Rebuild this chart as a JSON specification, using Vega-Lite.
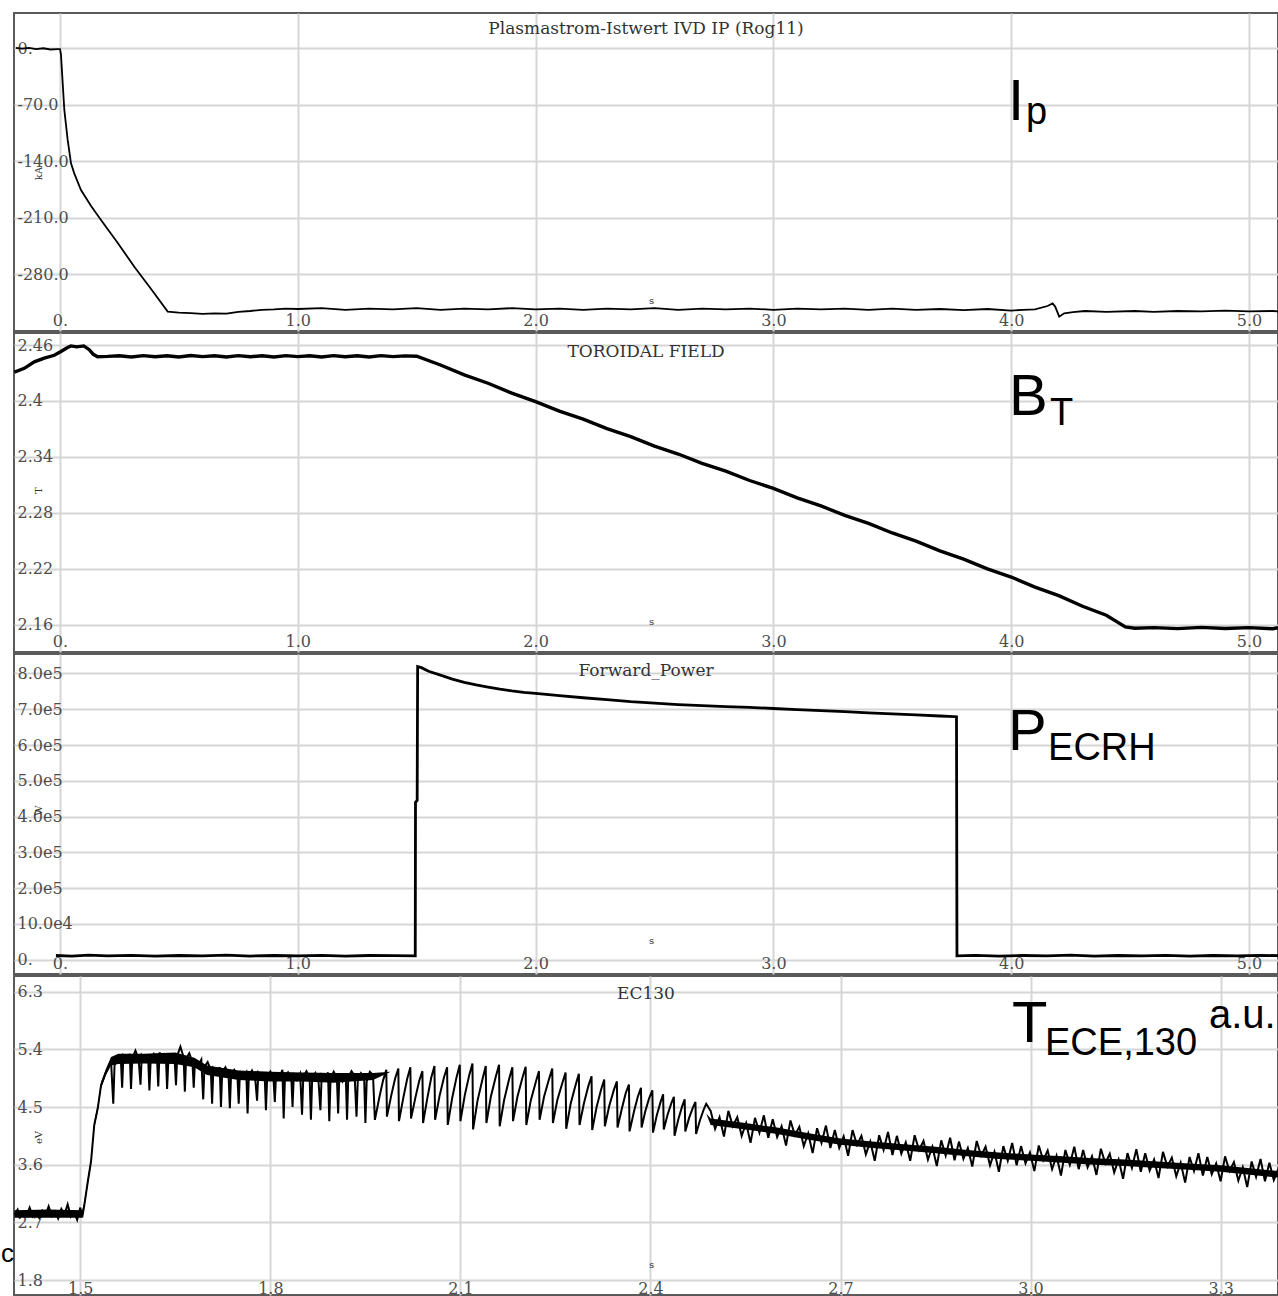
{
"$schema": "https://vega.github.io/schema/vega-lite/v6.json",
"padding": {"left": 0, "top": 12, "right": 0, "bottom": 0},
"autosize": {"type": "pad"},
"background": "white",
"spacing": 2,
"bounds": "flush",
"config": {
  "view": {"stroke": "#5a5a5a", "strokeWidth": 2},
  "axis": {"grid": true, "gridColor": "#d6d6d6", "gridWidth": 2, "domain": false, "ticks": false, "tickSize": 0, "labelFont": "DejaVu Serif", "labelFontSize": 16, "labelColor": "#4d4d4d", "labelOverlap": false, "labelFlush": false, "labelBound": false, "titleFont": "DejaVu Serif", "titleFontSize": 10, "titleFontWeight": "normal", "titleColor": "#333333", "titleAlign": "center", "titleBaseline": "middle"},
  "axisX": {"labelPadding": -6, "labelBaseline": "alphabetic", "labelAlign": "center", "titleX": 637, "titleY": -31, "titleAngle": 0},
  "axisY": {"labelPadding": -3, "labelAlign": "left", "labelBaseline": "middle", "titleX": 24, "titleY": 160, "titleAngle": 270},
  "title": {"font": "DejaVu Serif", "fontSize": 17, "fontWeight": "normal", "color": "#333333", "anchor": "middle", "frame": "group"}
},
"vconcat": [
{
  "width": 1264, "height": 318,
  "title": {"text": "Plasmastrom-Istwert IVD IP (Rog11)", "offset": -25},
  "encoding": {
    "x": {"field": "t", "type": "quantitative", "scale": {"domain": [-0.1934, 5.122], "nice": false, "zero": false}, "axis": {"values": [0,1,2,3,4,5], "labelExpr": "datum.value == 0 ? '0.' : format(datum.value, '.1f')", "title": "s"}},
    "y": {"field": "v", "type": "quantitative", "scale": {"domain": [-350.27, 43.7], "nice": false, "zero": false}, "axis": {"values": [0,-70,-140,-210,-280], "labelExpr": "datum.value == 0 ? '0.' : '-' + format(-datum.value, '.1f')", "title": "kA"}}
  },
  "layer": [
    {"data": {"values": [{"t":-0.186,"v":0.5},{"t":-0.16,"v":-0.5},{"t":-0.13,"v":0.5},{"t":-0.1,"v":-1},{"t":-0.07,"v":0},{"t":-0.04,"v":-1.5},{"t":-0.01,"v":-1},{"t":0.0,"v":-1},{"t":0.0042,"v":-8.3},{"t":0.0182,"v":-76.4},{"t":0.0323,"v":-113.6},{"t":0.0463,"v":-142.5},{"t":0.06,"v":-155},{"t":0.0883,"v":-175.6},{"t":0.13,"v":-195},{"t":0.1724,"v":-212.7},{"t":0.24,"v":-240},{"t":0.3125,"v":-270.6},{"t":0.38,"v":-297},{"t":0.4529,"v":-326.3},{"t":0.5,"v":-327.5},{"t":0.55,"v":-328},{"t":0.6,"v":-329},{"t":0.65,"v":-328.5},{"t":0.7,"v":-328.8},{"t":0.75,"v":-326.5},{"t":0.8,"v":-325.5},{"t":0.85,"v":-324},{"t":0.9,"v":-323.5},{"t":0.95,"v":-322.5},{"t":1.0,"v":-323},{"t":1.1,"v":-322},{"t":1.2,"v":-324},{"t":1.3,"v":-322.5},{"t":1.4,"v":-323.5},{"t":1.5,"v":-322},{"t":1.6,"v":-324},{"t":1.7,"v":-322.5},{"t":1.8,"v":-323.5},{"t":1.9,"v":-322},{"t":2.0,"v":-323.5},{"t":2.1,"v":-322.5},{"t":2.2,"v":-324},{"t":2.3,"v":-322.5},{"t":2.4,"v":-323.5},{"t":2.5,"v":-322},{"t":2.6,"v":-324},{"t":2.7,"v":-322.5},{"t":2.8,"v":-323.5},{"t":2.9,"v":-322.5},{"t":3.0,"v":-324},{"t":3.1,"v":-322.5},{"t":3.2,"v":-323.5},{"t":3.3,"v":-322.5},{"t":3.4,"v":-324},{"t":3.5,"v":-322.5},{"t":3.6,"v":-324},{"t":3.7,"v":-323},{"t":3.8,"v":-324.5},{"t":3.9,"v":-323},{"t":4.0,"v":-325},{"t":4.05,"v":-324},{"t":4.1,"v":-323.5},{"t":4.153,"v":-319.3},{"t":4.174,"v":-316},{"t":4.185,"v":-320},{"t":4.202,"v":-332.5},{"t":4.223,"v":-328.4},{"t":4.26,"v":-327},{"t":4.31,"v":-325.5},{"t":4.4,"v":-326.5},{"t":4.52,"v":-325.5},{"t":4.6,"v":-326.5},{"t":4.7,"v":-325.5},{"t":4.8,"v":-326},{"t":4.9,"v":-325},{"t":5.0,"v":-326},{"t":5.1,"v":-325.5},{"t":5.122,"v":-326}]},
     "mark": {"type": "line", "color": "black", "strokeWidth": 1.8, "clip": true}},
    {"data": {"values": [{"label": "I", "t": 3.987, "v": -89}]},
     "mark": {"type": "text", "font": "Liberation Sans", "fontSize": 58, "align": "left", "baseline": "alphabetic", "color": "black"},
     "encoding": {"text": {"field": "label"}}},
    {"data": {"values": [{"label": "p", "t": 4.062, "v": -94}]},
     "mark": {"type": "text", "font": "Liberation Sans", "fontSize": 38, "align": "left", "baseline": "alphabetic", "color": "black"},
     "encoding": {"text": {"field": "label"}}}
  ]
},
{
  "width": 1264, "height": 319,
  "title": {"text": "TOROIDAL FIELD", "offset": -28},
  "encoding": {
    "x": {"field": "t", "type": "quantitative", "scale": {"domain": [-0.1934, 5.122], "nice": false, "zero": false}, "axis": {"values": [0,1,2,3,4,5], "labelExpr": "datum.value == 0 ? '0.' : format(datum.value, '.1f')", "title": "s"}},
    "y": {"field": "v", "type": "quantitative", "scale": {"domain": [2.13106, 2.47286], "nice": false, "zero": false}, "axis": {"values": [2.46,2.4,2.34,2.28,2.22,2.16], "labelExpr": "format(datum.value, '.3~g')", "title": "T", "titleY": 157}}
  },
  "layer": [
    {"data": {"values": [{"t":-0.192,"v":2.431},{"t":-0.15,"v":2.435},{"t":-0.108,"v":2.442},{"t":-0.066,"v":2.446},{"t":-0.024,"v":2.449},{"t":0.004,"v":2.453},{"t":0.03,"v":2.457},{"t":0.046,"v":2.459},{"t":0.07,"v":2.458},{"t":0.1,"v":2.459},{"t":0.123,"v":2.455},{"t":0.14,"v":2.45},{"t":0.158,"v":2.4475},{"t":0.2,"v":2.4478},{"t":0.25,"v":2.4485},{"t":0.3,"v":2.4472},{"t":0.35,"v":2.4486},{"t":0.4,"v":2.4474},{"t":0.45,"v":2.4484},{"t":0.5,"v":2.4471},{"t":0.55,"v":2.4487},{"t":0.6,"v":2.4475},{"t":0.65,"v":2.4484},{"t":0.7,"v":2.4472},{"t":0.75,"v":2.4486},{"t":0.8,"v":2.4474},{"t":0.85,"v":2.4485},{"t":0.9,"v":2.4472},{"t":0.95,"v":2.4486},{"t":1.0,"v":2.4475},{"t":1.05,"v":2.4484},{"t":1.1,"v":2.4472},{"t":1.15,"v":2.4486},{"t":1.2,"v":2.4474},{"t":1.25,"v":2.4485},{"t":1.3,"v":2.4472},{"t":1.35,"v":2.4486},{"t":1.4,"v":2.4475},{"t":1.45,"v":2.4484},{"t":1.5,"v":2.448},{"t":1.6,"v":2.4386},{"t":1.7,"v":2.428},{"t":1.8,"v":2.419},{"t":1.9,"v":2.4084},{"t":2.0,"v":2.3994},{"t":2.1,"v":2.3892},{"t":2.2,"v":2.3806},{"t":2.3,"v":2.3704},{"t":2.4,"v":2.3618},{"t":2.5,"v":2.3516},{"t":2.6,"v":2.3432},{"t":2.7,"v":2.3332},{"t":2.8,"v":2.3248},{"t":2.9,"v":2.3148},{"t":3.0,"v":2.3064},{"t":3.1,"v":2.2962},{"t":3.2,"v":2.2876},{"t":3.3,"v":2.2774},{"t":3.4,"v":2.2688},{"t":3.5,"v":2.2586},{"t":3.6,"v":2.2498},{"t":3.7,"v":2.2394},{"t":3.8,"v":2.2306},{"t":3.9,"v":2.2202},{"t":4.0,"v":2.2114},{"t":4.1,"v":2.2006},{"t":4.2,"v":2.1914},{"t":4.3,"v":2.1801},{"t":4.4,"v":2.1704},{"t":4.48,"v":2.158},{"t":4.52,"v":2.1565},{"t":4.6,"v":2.1572},{"t":4.7,"v":2.1561},{"t":4.8,"v":2.1574},{"t":4.9,"v":2.1562},{"t":5.0,"v":2.1572},{"t":5.1,"v":2.156},{"t":5.122,"v":2.157}]},
     "mark": {"type": "line", "color": "black", "strokeWidth": 3.4, "clip": true}},
    {"data": {"values": [{"label": "B", "t": 3.991, "v": 2.385}]},
     "mark": {"type": "text", "font": "Liberation Sans", "fontSize": 58, "align": "left", "baseline": "alphabetic", "color": "black"},
     "encoding": {"text": {"field": "label"}}},
    {"data": {"values": [{"label": "T", "t": 4.163, "v": 2.3743}]},
     "mark": {"type": "text", "font": "Liberation Sans", "fontSize": 38, "align": "left", "baseline": "alphabetic", "color": "black"},
     "encoding": {"text": {"field": "label"}}}
  ]
},
{
  "width": 1264, "height": 320,
  "title": {"text": "Forward_Power", "offset": -26},
  "encoding": {
    "x": {"field": "t", "type": "quantitative", "scale": {"domain": [-0.1934, 5.122], "nice": false, "zero": false}, "axis": {"values": [0,1,2,3,4,5], "labelExpr": "datum.value == 0 ? '0.' : format(datum.value, '.1f')", "title": "s", "titleY": -34}},
    "y": {"field": "v", "type": "quantitative", "scale": {"domain": [-39665, 854190], "nice": false, "zero": false}, "axis": {"values": [0,100000,200000,300000,400000,500000,600000,700000,800000], "labelExpr": "datum.value == 0 ? '0.' : datum.value == 100000 ? '10.0e4' : format(datum.value / 100000, '.1f') + 'e5'", "title": "W", "titleY": 156}}
  },
  "layer": [
    {"data": {"values": [{"t":-0.017,"v":12000},{"t":0.05,"v":10000},{"t":0.12,"v":13000},{"t":0.2,"v":11000},{"t":0.3,"v":12500},{"t":0.4,"v":10500},{"t":0.5,"v":12000},{"t":0.6,"v":11000},{"t":0.7,"v":13000},{"t":0.8,"v":10500},{"t":0.9,"v":12000},{"t":1.0,"v":11000},{"t":1.1,"v":12500},{"t":1.2,"v":10500},{"t":1.3,"v":12000},{"t":1.4,"v":11500},{"t":1.494,"v":11000},{"t":1.495,"v":440000},{"t":1.502,"v":445000},{"t":1.504,"v":819000},{"t":1.52,"v":816000},{"t":1.55,"v":806000},{"t":1.6,"v":795000},{"t":1.65,"v":784000},{"t":1.7,"v":775000},{"t":1.75,"v":768000},{"t":1.8,"v":762000},{"t":1.85,"v":756000},{"t":1.9,"v":751000},{"t":1.95,"v":747000},{"t":2.0,"v":744000},{"t":2.1,"v":738000},{"t":2.2,"v":732000},{"t":2.3,"v":727000},{"t":2.4,"v":721000},{"t":2.5,"v":717000},{"t":2.6,"v":713000},{"t":2.7,"v":710000},{"t":2.8,"v":707000},{"t":2.9,"v":705000},{"t":3.0,"v":702000},{"t":3.1,"v":699000},{"t":3.2,"v":696000},{"t":3.3,"v":693000},{"t":3.4,"v":690000},{"t":3.5,"v":687000},{"t":3.6,"v":684000},{"t":3.7,"v":681000},{"t":3.77,"v":679000},{"t":3.772,"v":11000},{"t":3.85,"v":12500},{"t":3.95,"v":10500},{"t":4.05,"v":12000},{"t":4.15,"v":11000},{"t":4.25,"v":13000},{"t":4.35,"v":10500},{"t":4.45,"v":12000},{"t":4.55,"v":11000},{"t":4.65,"v":12500},{"t":4.75,"v":10500},{"t":4.85,"v":12000},{"t":4.95,"v":11000},{"t":5.05,"v":12500},{"t":5.122,"v":11500}]},
     "mark": {"type": "line", "color": "black", "strokeWidth": 2.8, "clip": true}},
    {"data": {"values": [{"label": "P", "t": 3.987, "v": 586000}]},
     "mark": {"type": "text", "font": "Liberation Sans", "fontSize": 58, "align": "left", "baseline": "alphabetic", "color": "black"},
     "encoding": {"text": {"field": "label"}}},
    {"data": {"values": [{"label": "ECRH", "t": 4.155, "v": 558100}]},
     "mark": {"type": "text", "font": "Liberation Sans", "fontSize": 38, "align": "left", "baseline": "alphabetic", "color": "black"},
     "encoding": {"text": {"field": "label"}}}
  ]
},
{
  "width": 1264, "height": 319,
  "title": {"text": "EC130", "offset": -27},
  "encoding": {
    "x": {"field": "t", "type": "quantitative", "scale": {"domain": [1.3953, 3.3906], "nice": false, "zero": false}, "axis": {"values": [1.5,1.8,2.1,2.4,2.7,3.0,3.3], "labelExpr": "format(datum.value, '.1f')", "title": "s", "labelPadding": -2}},
    "y": {"field": "v", "type": "quantitative", "scale": {"domain": [1.566, 6.545], "nice": false, "zero": false}, "axis": {"values": [6.3,5.4,4.5,3.6,2.7,1.8], "labelExpr": "format(datum.value, '.1f')", "title": "eV", "titleY": 161}}
  },
  "layer": [
    {"data": {"values": [
{"t":1.396,"v":2.89,"lo":2.77},{"t":1.45,"v":2.9,"lo":2.77},{"t":1.503,"v":2.89,"lo":2.77},{"t":1.5063,"v":3.02,"lo":2.92},{"t":1.5117,"v":3.38,"lo":3.28},{"t":1.5169,"v":3.7,"lo":3.6},{"t":1.522,"v":4.27,"lo":4.17},{"t":1.5275,"v":4.53,"lo":4.43},{"t":1.5327,"v":4.89,"lo":4.79},{"t":1.5406,"v":5.1,"lo":5.0},{"t":1.5485,"v":5.28,"lo":5.15},
{"t":1.56,"v":5.33,"lo":5.17},{"t":1.6,"v":5.33,"lo":5.18},{"t":1.65,"v":5.35,"lo":5.17},{"t":1.68,"v":5.27,"lo":5.12},{"t":1.7,"v":5.15,"lo":5.0},{"t":1.75,"v":5.07,"lo":4.92},{"t":1.8,"v":5.05,"lo":4.9},{"t":1.85,"v":5.04,"lo":4.9},{"t":1.9,"v":5.03,"lo":4.88},{"t":1.962,"v":5.03,"lo":4.92},
{"t":1.99,"v":5.05,"lo":5.05},{"t":2.488,"v":4.4,"lo":4.4},
{"t":2.495,"v":4.32,"lo":4.22},{"t":2.55,"v":4.25,"lo":4.15},{"t":2.6,"v":4.18,"lo":4.08},{"t":2.65,"v":4.09,"lo":3.99},{"t":2.7,"v":4.01,"lo":3.91},{"t":2.75,"v":3.96,"lo":3.86},{"t":2.8,"v":3.92,"lo":3.82},{"t":2.85,"v":3.88,"lo":3.78},{"t":2.9,"v":3.83,"lo":3.73},{"t":2.95,"v":3.79,"lo":3.69},{"t":3.0,"v":3.76,"lo":3.66},{"t":3.05,"v":3.73,"lo":3.63},{"t":3.1,"v":3.7,"lo":3.6},{"t":3.15,"v":3.68,"lo":3.58},{"t":3.2,"v":3.65,"lo":3.55},{"t":3.25,"v":3.62,"lo":3.52},{"t":3.3,"v":3.59,"lo":3.49},{"t":3.35,"v":3.54,"lo":3.44},{"t":3.391,"v":3.5,"lo":3.4}
    ]},
     "mark": {"type": "area", "color": "black", "opacity": 1, "clip": true},
     "encoding": {"y2": {"field": "lo"}}},
    {"data": {"values": [
{"t":1.396,"v":2.82},{"t":1.401,"v":2.90},{"t":1.405,"v":2.78},{"t":1.41,"v":2.86},{"t":1.415,"v":2.80},{"t":1.42,"v":2.93},{"t":1.425,"v":2.79},{"t":1.43,"v":2.85},{"t":1.435,"v":2.77},{"t":1.44,"v":2.88},{"t":1.445,"v":2.81},{"t":1.45,"v":2.95},{"t":1.455,"v":2.80},{"t":1.46,"v":2.87},{"t":1.465,"v":2.76},{"t":1.47,"v":2.91},{"t":1.475,"v":2.82},{"t":1.48,"v":2.98},{"t":1.485,"v":2.79},{"t":1.49,"v":2.86},{"t":1.495,"v":2.74},{"t":1.5,"v":2.93},{"t":1.503,"v":2.78},
{"t":1.5063,"v":2.97},{"t":1.5117,"v":3.33},{"t":1.5169,"v":3.65},{"t":1.522,"v":4.22},{"t":1.5275,"v":4.48},{"t":1.5327,"v":4.84},{"t":1.5406,"v":5.05},{"t":1.5485,"v":5.21},
{"t":1.552,"v":4.55},{"t":1.554,"v":5.15},{"t":1.559,"v":5.28},{"t":1.564,"v":5.24},
{"t":1.566,"v":4.80},{"t":1.568,"v":5.30},{"t":1.573,"v":5.22},{"t":1.578,"v":5.33},
{"t":1.58,"v":4.78},{"t":1.582,"v":5.26},{"t":1.587,"v":5.38},{"t":1.592,"v":5.25},
{"t":1.595,"v":4.85},{"t":1.597,"v":5.31},{"t":1.602,"v":5.24},{"t":1.607,"v":5.29},
{"t":1.609,"v":4.76},{"t":1.611,"v":5.22},{"t":1.616,"v":5.33},{"t":1.621,"v":5.27},
{"t":1.623,"v":4.82},{"t":1.625,"v":5.35},{"t":1.63,"v":5.25},{"t":1.635,"v":5.30},
{"t":1.637,"v":4.78},{"t":1.639,"v":5.24},{"t":1.644,"v":5.31},{"t":1.649,"v":5.22},
{"t":1.651,"v":4.84},{"t":1.653,"v":5.30},{"t":1.658,"v":5.44},{"t":1.663,"v":5.28},
{"t":1.665,"v":4.74},{"t":1.667,"v":5.26},{"t":1.672,"v":5.34},{"t":1.677,"v":5.20},
{"t":1.679,"v":4.80},{"t":1.681,"v":5.22},{"t":1.686,"v":5.15},{"t":1.691,"v":5.24},
{"t":1.694,"v":4.62},{"t":1.696,"v":5.13},{"t":1.701,"v":5.20},{"t":1.706,"v":5.08},
{"t":1.708,"v":4.55},{"t":1.71,"v":5.10},{"t":1.715,"v":5.02},{"t":1.72,"v":5.12},
{"t":1.722,"v":4.50},{"t":1.724,"v":5.05},{"t":1.729,"v":5.12},{"t":1.734,"v":5.00},
{"t":1.736,"v":4.48},{"t":1.738,"v":5.02},{"t":1.743,"v":5.08},{"t":1.748,"v":4.98},
{"t":1.75,"v":4.55},{"t":1.752,"v":5.06},{"t":1.757,"v":4.96},{"t":1.762,"v":5.04},
{"t":1.764,"v":4.40},{"t":1.766,"v":4.98},{"t":1.771,"v":5.07},{"t":1.776,"v":4.95},
{"t":1.779,"v":4.60},{"t":1.781,"v":5.03},{"t":1.786,"v":4.94},{"t":1.791,"v":5.00},
{"t":1.793,"v":4.45},{"t":1.795,"v":4.97},{"t":1.8,"v":5.05},{"t":1.805,"v":4.93},
{"t":1.807,"v":4.58},{"t":1.809,"v":5.01},{"t":1.814,"v":4.95},{"t":1.819,"v":5.08},
{"t":1.821,"v":4.32},{"t":1.823,"v":4.96},{"t":1.828,"v":5.04},{"t":1.833,"v":4.97},
{"t":1.835,"v":4.50},{"t":1.837,"v":5.00},{"t":1.842,"v":4.92},{"t":1.847,"v":5.02},
{"t":1.85,"v":4.38},{"t":1.852,"v":4.98},{"t":1.857,"v":5.06},{"t":1.862,"v":4.94},
{"t":1.864,"v":4.30},{"t":1.866,"v":4.95},{"t":1.871,"v":5.03},{"t":1.876,"v":4.90},
{"t":1.879,"v":4.45},{"t":1.881,"v":5.00},{"t":1.886,"v":4.93},{"t":1.891,"v":5.04},
{"t":1.893,"v":4.28},{"t":1.895,"v":4.94},{"t":1.9,"v":5.05},{"t":1.905,"v":4.96},
{"t":1.907,"v":4.40},{"t":1.909,"v":5.02},{"t":1.914,"v":4.90},{"t":1.919,"v":5.00},
{"t":1.921,"v":4.30},{"t":1.923,"v":4.96},{"t":1.928,"v":5.06},{"t":1.933,"v":4.99},
{"t":1.936,"v":4.35},{"t":1.938,"v":4.92},{"t":1.943,"v":5.03},{"t":1.948,"v":4.97},
{"t":1.95,"v":4.25},{"t":1.952,"v":4.90},{"t":1.957,"v":5.05},{"t":1.962,"v":5.00},
{"t":1.965,"v":4.30},{"t":1.972,"v":4.65},{"t":1.978,"v":4.92},{"t":1.983,"v":5.08},
{"t":1.984,"v":4.35},{"t":1.991,"v":4.69},{"t":1.997,"v":4.95},{"t":2.002,"v":5.10},
{"t":2.003,"v":4.28},{"t":2.01,"v":4.65},{"t":2.016,"v":4.94},{"t":2.021,"v":5.12},
{"t":2.022,"v":4.32},{"t":2.029,"v":4.65},{"t":2.035,"v":4.91},{"t":2.04,"v":5.06},
{"t":2.041,"v":4.25},{"t":2.048,"v":4.65},{"t":2.054,"v":4.96},{"t":2.059,"v":5.14},
{"t":2.06,"v":4.30},{"t":2.067,"v":4.67},{"t":2.074,"v":4.96},{"t":2.079,"v":5.12},
{"t":2.08,"v":4.22},{"t":2.087,"v":4.64},{"t":2.094,"v":4.97},{"t":2.099,"v":5.16},
{"t":2.1,"v":4.28},{"t":2.107,"v":4.69},{"t":2.114,"v":5.00},{"t":2.119,"v":5.18},
{"t":2.12,"v":4.15},{"t":2.127,"v":4.60},{"t":2.135,"v":4.94},{"t":2.14,"v":5.14},
{"t":2.141,"v":4.25},{"t":2.148,"v":4.66},{"t":2.156,"v":4.98},{"t":2.161,"v":5.16},
{"t":2.162,"v":4.20},{"t":2.169,"v":4.61},{"t":2.177,"v":4.94},{"t":2.182,"v":5.12},
{"t":2.183,"v":4.28},{"t":2.19,"v":4.66},{"t":2.198,"v":4.96},{"t":2.203,"v":5.13},
{"t":2.204,"v":4.22},{"t":2.211,"v":4.60},{"t":2.219,"v":4.89},{"t":2.224,"v":5.06},
{"t":2.225,"v":4.30},{"t":2.232,"v":4.66},{"t":2.24,"v":4.94},{"t":2.245,"v":5.10},
{"t":2.246,"v":4.25},{"t":2.253,"v":4.61},{"t":2.261,"v":4.88},{"t":2.266,"v":5.04},
{"t":2.267,"v":4.16},{"t":2.274,"v":4.55},{"t":2.282,"v":4.85},{"t":2.287,"v":5.02},
{"t":2.288,"v":4.22},{"t":2.295,"v":4.56},{"t":2.302,"v":4.83},{"t":2.307,"v":4.98},
{"t":2.308,"v":4.14},{"t":2.315,"v":4.50},{"t":2.322,"v":4.77},{"t":2.327,"v":4.93},
{"t":2.328,"v":4.20},{"t":2.335,"v":4.52},{"t":2.342,"v":4.76},{"t":2.347,"v":4.90},
{"t":2.348,"v":4.18},{"t":2.355,"v":4.48},{"t":2.361,"v":4.72},{"t":2.366,"v":4.85},
{"t":2.367,"v":4.12},{"t":2.374,"v":4.43},{"t":2.38,"v":4.66},{"t":2.385,"v":4.80},
{"t":2.386,"v":4.18},{"t":2.392,"v":4.44},{"t":2.398,"v":4.64},{"t":2.403,"v":4.76},
{"t":2.404,"v":4.10},{"t":2.41,"v":4.37},{"t":2.416,"v":4.58},{"t":2.42,"v":4.70},
{"t":2.421,"v":4.15},{"t":2.427,"v":4.38},{"t":2.433,"v":4.56},{"t":2.437,"v":4.66},
{"t":2.438,"v":4.05},{"t":2.444,"v":4.31},{"t":2.45,"v":4.51},{"t":2.454,"v":4.62},
{"t":2.455,"v":4.12},{"t":2.461,"v":4.33},{"t":2.467,"v":4.49},{"t":2.471,"v":4.58},
{"t":2.472,"v":4.08},{"t":2.478,"v":4.29},{"t":2.484,"v":4.46},{"t":2.488,"v":4.55},
{"t":2.495,"v":4.44},{"t":2.502,"v":4.16},{"t":2.509,"v":4.34},{"t":2.516,"v":4.04},{"t":2.523,"v":4.44},{"t":2.53,"v":4.20},{"t":2.537,"v":4.34},{"t":2.544,"v":4.05},{"t":2.551,"v":4.25},{"t":2.558,"v":3.94},{"t":2.565,"v":4.33},{"t":2.572,"v":4.10},{"t":2.579,"v":4.37},{"t":2.586,"v":4.02},{"t":2.593,"v":4.31},{"t":2.6,"v":4.03},{"t":2.607,"v":4.20},{"t":2.614,"v":3.90},{"t":2.621,"v":4.29},{"t":2.628,"v":4.06},{"t":2.635,"v":4.19},{"t":2.642,"v":3.89},{"t":2.649,"v":4.09},{"t":2.656,"v":3.78},{"t":2.663,"v":4.17},{"t":2.67,"v":3.94},{"t":2.677,"v":4.21},{"t":2.684,"v":3.86},{"t":2.691,"v":4.14},{"t":2.698,"v":3.86},{"t":2.705,"v":4.04},{"t":2.712,"v":3.74},{"t":2.719,"v":4.14},{"t":2.726,"v":3.91},{"t":2.733,"v":4.05},{"t":2.74,"v":3.76},{"t":2.747,"v":3.96},{"t":2.754,"v":3.66},{"t":2.761,"v":4.06},{"t":2.768,"v":3.83},{"t":2.775,"v":4.11},{"t":2.782,"v":3.75},{"t":2.789,"v":4.05},{"t":2.796,"v":3.77},{"t":2.803,"v":3.95},{"t":2.81,"v":3.66},{"t":2.817,"v":4.06},{"t":2.824,"v":3.83},{"t":2.831,"v":3.97},{"t":2.838,"v":3.68},{"t":2.845,"v":3.88},{"t":2.852,"v":3.58},{"t":2.859,"v":3.98},{"t":2.866,"v":3.74},{"t":2.873,"v":4.02},{"t":2.88,"v":3.67},{"t":2.887,"v":3.96},{"t":2.894,"v":3.69},{"t":2.901,"v":3.86},{"t":2.908,"v":3.57},{"t":2.915,"v":3.97},{"t":2.922,"v":3.74},{"t":2.929,"v":3.88},{"t":2.936,"v":3.59},{"t":2.943,"v":3.80},{"t":2.95,"v":3.49},{"t":2.957,"v":3.89},{"t":2.964,"v":3.66},{"t":2.971,"v":3.94},{"t":2.978,"v":3.59},{"t":2.985,"v":3.89},{"t":2.992,"v":3.62},{"t":2.999,"v":3.79},{"t":3.006,"v":3.50},{"t":3.013,"v":3.90},{"t":3.02,"v":3.67},{"t":3.027,"v":3.82},{"t":3.034,"v":3.53},{"t":3.041,"v":3.74},{"t":3.048,"v":3.43},{"t":3.055,"v":3.83},{"t":3.062,"v":3.60},{"t":3.069,"v":3.88},{"t":3.076,"v":3.53},{"t":3.083,"v":3.83},{"t":3.09,"v":3.56},{"t":3.097,"v":3.73},{"t":3.104,"v":3.44},{"t":3.111,"v":3.85},{"t":3.118,"v":3.62},{"t":3.125,"v":3.77},{"t":3.132,"v":3.48},{"t":3.139,"v":3.68},{"t":3.146,"v":3.38},{"t":3.153,"v":3.78},{"t":3.16,"v":3.55},{"t":3.167,"v":3.84},{"t":3.174,"v":3.49},{"t":3.181,"v":3.78},{"t":3.188,"v":3.51},{"t":3.195,"v":3.68},{"t":3.202,"v":3.39},{"t":3.209,"v":3.80},{"t":3.216,"v":3.57},{"t":3.223,"v":3.71},{"t":3.23,"v":3.42},{"t":3.237,"v":3.63},{"t":3.244,"v":3.32},{"t":3.251,"v":3.72},{"t":3.258,"v":3.50},{"t":3.265,"v":3.78},{"t":3.272,"v":3.43},{"t":3.279,"v":3.72},{"t":3.286,"v":3.45},{"t":3.293,"v":3.62},{"t":3.3,"v":3.34},{"t":3.307,"v":3.73},{"t":3.314,"v":3.50},{"t":3.321,"v":3.64},{"t":3.328,"v":3.35},{"t":3.335,"v":3.56},{"t":3.342,"v":3.25},{"t":3.349,"v":3.65},{"t":3.356,"v":3.41},{"t":3.363,"v":3.69},{"t":3.37,"v":3.34},{"t":3.377,"v":3.63},{"t":3.384,"v":3.36},{"t":3.391,"v":3.53}
    ]},
     "mark": {"type": "line", "color": "black", "strokeWidth": 2, "clip": true}},
    {"data": {"values": [{"label": "T", "t": 2.9707, "v": 5.515}]},
     "mark": {"type": "text", "font": "Liberation Sans", "fontSize": 58, "align": "left", "baseline": "alphabetic", "color": "black"},
     "encoding": {"text": {"field": "label"}}},
    {"data": {"values": [{"label": "ECE,130", "t": 3.0228, "v": 5.312}]},
     "mark": {"type": "text", "font": "Liberation Sans", "fontSize": 38, "align": "left", "baseline": "alphabetic", "color": "black"},
     "encoding": {"text": {"field": "label"}}},
    {"data": {"values": [{"label": "a.u.", "t": 3.2817, "v": 5.733}]},
     "mark": {"type": "text", "font": "Liberation Sans", "fontSize": 40, "align": "left", "baseline": "alphabetic", "color": "black"},
     "encoding": {"text": {"field": "label"}}},
    {"data": {"values": [{"label": "c", "t": 1.3748, "v": 2.081}]},
     "mark": {"type": "text", "font": "Liberation Sans", "fontSize": 26, "align": "left", "baseline": "alphabetic", "color": "black"},
     "encoding": {"text": {"field": "label"}}}
  ]
}
]
}
